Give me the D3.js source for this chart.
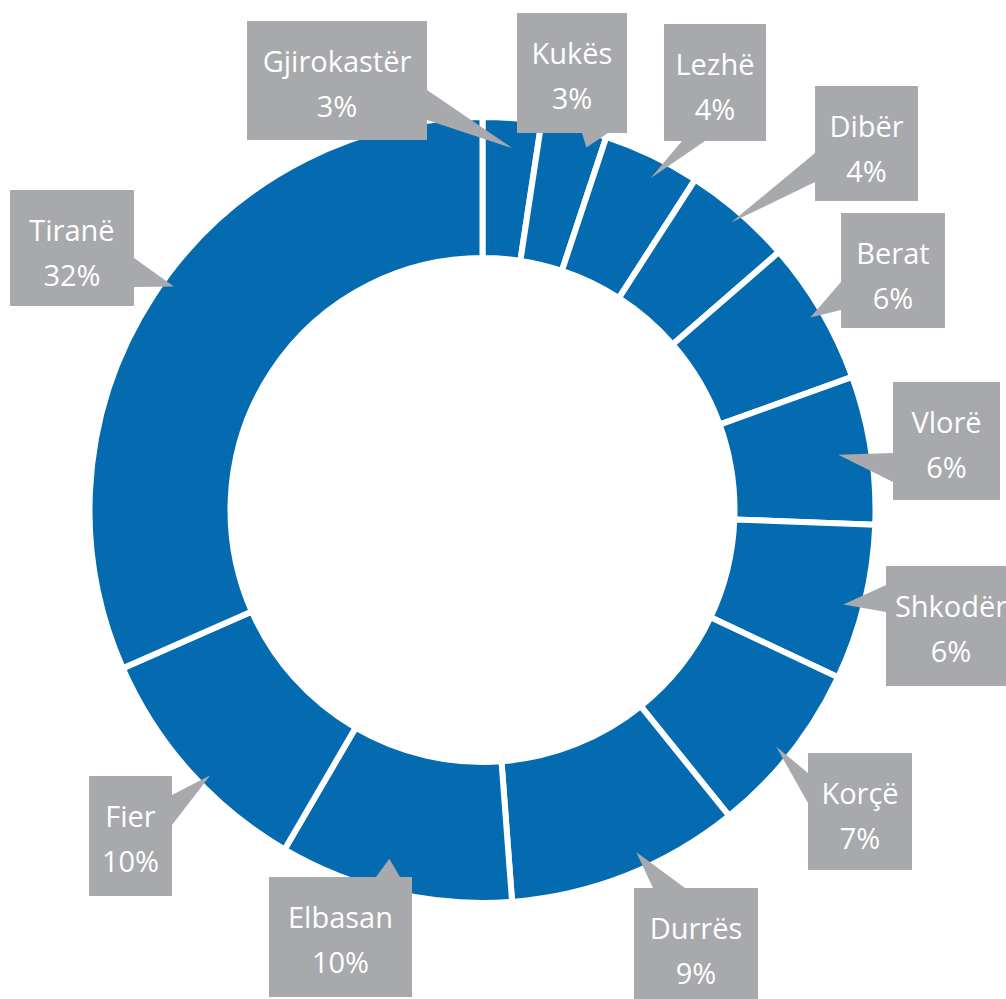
<!DOCTYPE html>
<html>
<head>
<meta charset="utf-8">
<script src="https://cdn.jsdelivr.net/npm/d3@7"></script>
<style>
  html, body { margin: 0; padding: 0; background: #ffffff; }
  svg { display: block; }
</style>
</head>
<body>
<svg id="chart" width="1006" height="999"></svg>
<script>
// ---- data ----
const regions = ["Gjirokastër", "Kukës", "Lezhë", "Dibër", "Berat", "Vlorë", "Shkodër", "Korçë", "Durrës", "Elbasan", "Fier", "Tiranë"];
const shares = [2.4, 2.7, 4.0, 4.5, 5.9, 6.1, 6.4, 7.2, 9.6, 9.6, 10.0, 31.6];
const percentLabels = ["3%", "3%", "4%", "4%", "6%", "6%", "6%", "7%", "9%", "10%", "10%", "32%"];

// ---- layout of callout boxes (positions only) ----
const callouts = [
  {x: 247, y: 21,  w: 180, h: 119, side: "right",  b: [90, 120],  r: 363, da: 0.4},
  {x: 517, y: 13,  w: 110, h: 120, side: "bottom", b: [582, 608], r: 377, da: 2.5},
  {x: 664, y: 24,  w: 102, h: 117, side: "bottom", b: [682, 705], r: 372, da: 1.3},
  {x: 815, y: 86,  w: 103, h: 115, side: "left",   b: [153, 182], r: 380, da: 0},
  {x: 841, y: 213, w: 104, h: 115, side: "left",   b: [282, 310], r: 380, da: 0},
  {x: 893, y: 382, w: 107, h: 118, side: "left",   b: [453, 482], r: 360, da: 0},
  {x: 886, y: 566, w: 130, h: 120, side: "left",   b: [585, 612], r: 373, da: 1},
  {x: 808, y: 753, w: 104, h: 117, side: "left",   b: [773, 803], r: 377, da: 0.7},
  {x: 634, y: 888, w: 124, h: 120, side: "top",    b: [653, 685], r: 375, da: -2.6},
  {x: 269, y: 877, w: 143, h: 120, side: "top",    b: [376, 400], r: 361, da: 2},
  {x: 89,  y: 776, w: 83,  h: 120, side: "right",  b: [795, 825], r: 380, da: -2.5},
  {x: 10,  y: 190, w: 124, h: 116, side: "right",  b: [258, 287], r: 381, da: 2.8}
];

const cx = 482.5, cy = 510;
const blue = "#056bb0", gray = "#a7a9ac";

const svg = d3.select("#chart");
const g = svg.append("g").attr("transform", `translate(${cx},${cy})`);

const pie = d3.pie().sort(null).value(d => d);
const arcs = pie(shares);
const arc = d3.arc().innerRadius(252).outerRadius(393);

g.selectAll("path.slice")
  .data(arcs)
  .join("path")
  .attr("class", "slice")
  .attr("d", arc)
  .attr("fill", blue)
  .attr("stroke", "#ffffff")
  .attr("stroke-width", 6)
  .attr("stroke-linejoin", "miter");

// callouts
const layer = svg.append("g");
arcs.forEach((a, i) => {
  const c = callouts[i];
  const mid = (a.startAngle + a.endAngle) / 2 + c.da * Math.PI / 180;
  const tip = [cx + c.r * Math.sin(mid), cy - c.r * Math.cos(mid)];
  let p1, p2;
  if (c.side === "right") { p1 = [c.x + c.w, c.b[0]]; p2 = [c.x + c.w, c.b[1]]; }
  else if (c.side === "left") { p1 = [c.x, c.b[0]]; p2 = [c.x, c.b[1]]; }
  else if (c.side === "bottom") { p1 = [c.b[0], c.y + c.h]; p2 = [c.b[1], c.y + c.h]; }
  else { p1 = [c.b[0], c.y]; p2 = [c.b[1], c.y]; }
  const grp = layer.append("g");
  grp.append("rect")
    .attr("x", c.x).attr("y", c.y).attr("width", c.w).attr("height", c.h)
    .attr("fill", gray);
  grp.append("path")
    .attr("d", d3.line()([p1, tip, p2]) + "Z")
    .attr("fill", gray);
  const tx = c.x + c.w / 2;
  grp.append("text")
    .attr("x", tx).attr("y", c.y + 51)
    .attr("text-anchor", "middle")
    .attr("font-family", "'Open Sans', sans-serif")
    .attr("font-size", 29)
    .attr("fill", "#ffffff")
    .text(regions[i]);
  grp.append("text")
    .attr("x", tx).attr("y", c.y + 96)
    .attr("text-anchor", "middle")
    .attr("font-family", "'Open Sans', sans-serif")
    .attr("font-size", 29)
    .attr("fill", "#ffffff")
    .text(percentLabels[i]);
});
</script>
</body>
</html>
